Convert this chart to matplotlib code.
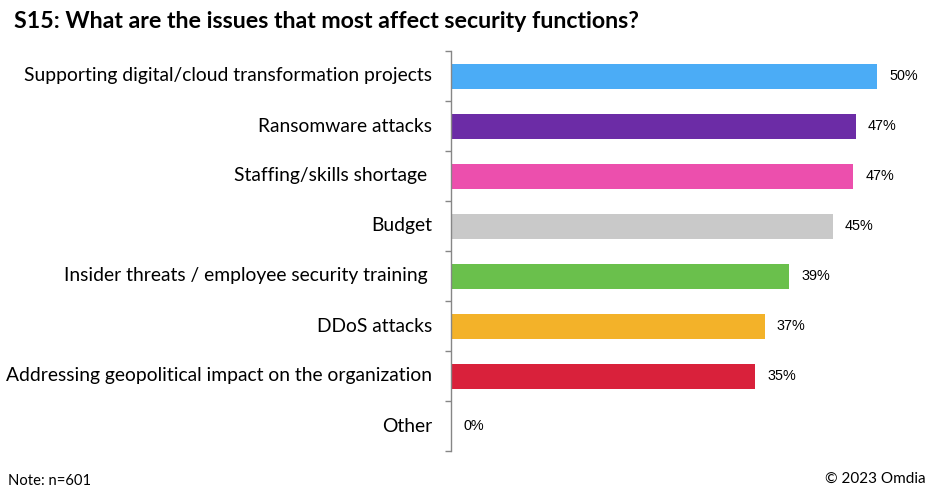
import matplotlib
matplotlib.use('Agg')
import matplotlib.pyplot as plt
import numpy as np

# values (percent of respondents)
issues = [
    'Supporting digital/cloud transformation projects',
    'Ransomware attacks',
    'Staffing/skills shortage ',
    'Budget',
    'Insider threats / employee security training ',
    'DDoS attacks',
    'Addressing geopolitical impact on the organization',
    'Other',
]
shares = [50.0, 47.5, 47.2, 44.8, 39.7, 36.8, 35.7, 0.0]
share_labels = ['50%', '47%', '47%', '45%', '39%', '37%', '35%', '0%']
colors = ['#4BACF6', '#6C2CA6', '#EC4FAD', '#C9C9C9',
          '#6AC04C', '#F3B229', '#D9213B', '#D9213B']

W, H = 934, 497
fig = plt.figure(figsize=(W / 100, H / 100), dpi=100)
ax = fig.add_axes([451.3 / W, 1 - 451 / H, 1 - 451.3 / W, 400 / H])

y = np.arange(len(issues))
ax.barh(y, shares, height=0.5, color=colors)
ax.set_xlim(0, (W - 451.3) / 8.514)
ax.set_ylim(len(issues) - 0.5, -0.5)

for yi, v, lab in zip(y, shares, share_labels):
    ax.annotate(lab, (v, yi), xytext=(12, 0), textcoords='offset pixels',
                ha='left', va='center', fontsize=10.4,
                family='Liberation Sans', color='#000000')

# category names as free text, right aligned next to the axis
for yi, name in zip(y, issues):
    ax.annotate(name, (0, yi), xytext=(-19, 0), textcoords='offset pixels',
                ha='right', va='center', fontsize=13.9, family='Lato',
                color='#000000', annotation_clip=False)

ax.set_yticks(np.arange(-0.5, len(issues), 1.0))
ax.set_yticklabels([])
ax.tick_params(axis='y', length=4.3, width=1, color='#868686')
ax.set_xticks([])
for side in ['top', 'right', 'bottom']:
    ax.spines[side].set_visible(False)
ax.spines['left'].set_color('#868686')
ax.spines['left'].set_linewidth(1)

fig.text(14 / W, 1 - 22 / H, 'S15: What are the issues that most affect security functions?',
         ha='left', va='center', fontsize=16.7, fontweight='bold', family='Lato')
fig.text(8 / W, 1 - 481 / H, 'Note: n=601', ha='left', va='center',
         fontsize=10.6, family='Lato')
fig.text(926 / W, 1 - 479 / H, '\u00a9 2023 Omdia', ha='right', va='center',
         fontsize=11, family='Lato')

fig.savefig('out.png', dpi=100)
